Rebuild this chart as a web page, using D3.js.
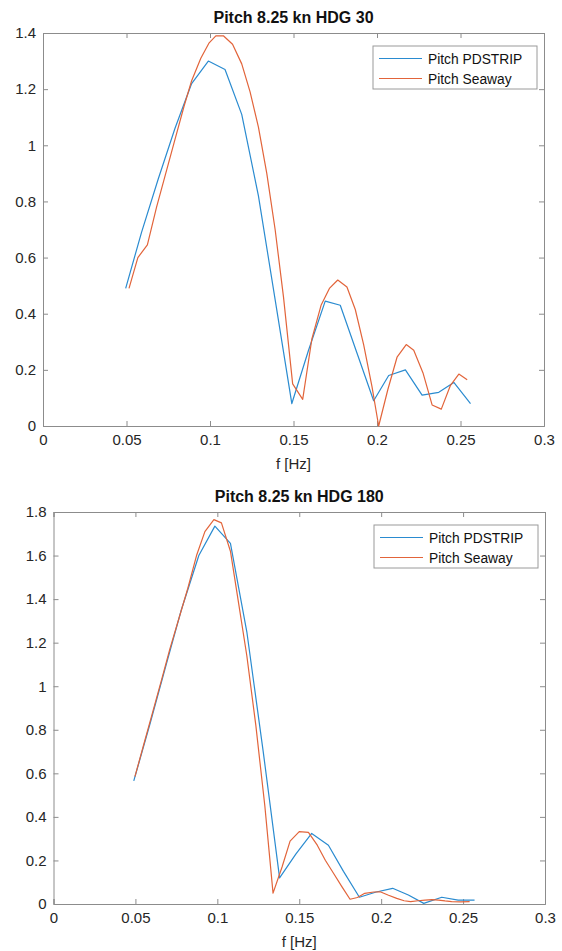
<!DOCTYPE html>
<html>
<head>
<meta charset="utf-8">
<script src="https://cdn.jsdelivr.net/npm/d3@7"></script>
<style>
  body { margin: 0; background: #fff; }
  svg { display: block; font-family: "Liberation Sans", Arial, sans-serif; }
</style>
</head>
<body>
<svg id="chart" width="562" height="951"></svg>
<script>
// ---- data ----
var titles = ["Pitch 8.25 kn HDG 30", "Pitch 8.25 kn HDG 180"];
var seriesNames = ["Pitch PDSTRIP", "Pitch Seaway"];
var xTicks = [0, 0.05, 0.1, 0.15, 0.2, 0.25, 0.3];
var yTicksTop = [0, 0.2, 0.4, 0.6, 0.8, 1, 1.2, 1.4];
var yTicksBottom = [0, 0.2, 0.4, 0.6, 0.8, 1, 1.2, 1.4, 1.6, 1.8];

// HDG 30
var pdstrip30_f = [0.0495, 0.059, 0.069, 0.079, 0.089, 0.099, 0.109, 0.119, 0.129, 0.139, 0.149,
  0.159, 0.169, 0.178, 0.188, 0.198, 0.207, 0.217, 0.227, 0.237, 0.246, 0.256];
var pdstrip30_v = [0.49, 0.69, 0.88, 1.06, 1.22, 1.30, 1.27, 1.11, 0.82, 0.45, 0.08,
  0.27, 0.445, 0.43, 0.26, 0.09, 0.18, 0.20, 0.11, 0.12, 0.155, 0.08];
var seaway30_f = [0.0515, 0.0568, 0.0625, 0.068, 0.0735, 0.079, 0.0845, 0.089, 0.0945, 0.0995,
  0.1035, 0.108, 0.1135, 0.119, 0.124, 0.129, 0.134, 0.139, 0.144, 0.1495, 0.1555, 0.161, 0.1665,
  0.1715, 0.1765, 0.182, 0.187, 0.192, 0.197, 0.201, 0.2065, 0.212, 0.2175, 0.222, 0.2275, 0.233,
  0.2385, 0.244, 0.249, 0.254];
var seaway30_v = [0.49, 0.60, 0.645, 0.78, 0.90, 1.02, 1.14, 1.23, 1.31, 1.365,
  1.39, 1.39, 1.36, 1.29, 1.19, 1.065, 0.90, 0.70, 0.46, 0.15, 0.095, 0.31, 0.43,
  0.49, 0.52, 0.495, 0.415, 0.29, 0.14, 0.0, 0.13, 0.245, 0.29, 0.27, 0.19, 0.075,
  0.06, 0.145, 0.185, 0.165];

// HDG 180
var pdstrip180_f = [0.049, 0.059, 0.069, 0.078, 0.0887, 0.0985, 0.108, 0.118, 0.128, 0.138, 0.148,
  0.1576, 0.1678, 0.177, 0.1867, 0.197, 0.207, 0.2166, 0.226, 0.237, 0.247, 0.257];
var pdstrip180_v = [0.565, 0.83, 1.105, 1.35, 1.60, 1.735, 1.656, 1.25, 0.70, 0.12, 0.23,
  0.324, 0.27, 0.15, 0.031, 0.055, 0.072, 0.041, 0.003, 0.031, 0.018, 0.018];
var seaway180_f = [0.0497, 0.055, 0.0605, 0.066, 0.071, 0.0765, 0.082, 0.0873, 0.0924, 0.0979,
  0.1025, 0.108, 0.113, 0.118, 0.1235, 0.129, 0.134, 0.1395, 0.1444, 0.150, 0.1556, 0.161, 0.166,
  0.171, 0.176, 0.181, 0.1855, 0.190, 0.1955, 0.1994, 0.2045, 0.2095, 0.214, 0.218, 0.2225, 0.2268,
  0.231, 0.235, 0.239, 0.243, 0.2485, 0.254];
var seaway180_v = [0.585, 0.73, 0.88, 1.03, 1.17, 1.31, 1.45, 1.60, 1.71, 1.765,
  1.75, 1.62, 1.38, 1.14, 0.82, 0.45, 0.05, 0.17, 0.289, 0.332, 0.329, 0.27, 0.20,
  0.14, 0.08, 0.022, 0.03, 0.049, 0.055, 0.056, 0.04, 0.026, 0.015, 0.011, 0.015, 0.018,
  0.02, 0.018, 0.014, 0.011, 0.01, 0.011];

var colors = ["#2a8bd0", "#e2643a"];
var frameColor = "#8c8c8c";

function zip(f, v){ return f.map(function(d, i){ return {f: d, v: v[i]}; }); }

var svg = d3.select("#chart");

function drawPanel(o){
  var x = d3.scaleLinear().domain([0, 0.3]).range([o.left, o.right]);
  var y = d3.scaleLinear().domain([0, o.ymax]).range([o.bottom, o.top]);
  var g = svg.append("g");

  // bottom / top axes
  g.append("g")
    .attr("transform", "translate(0," + o.bottom + ")")
    .call(d3.axisBottom(x).tickValues(xTicks).tickSize(-5).tickPadding(8)
      .tickFormat(function(d){ return d3.format("")(d); }))
    .call(styleAxis);
  g.append("g")
    .attr("transform", "translate(0," + o.top + ")")
    .call(d3.axisTop(x).tickValues(xTicks).tickSize(-5).tickFormat(""))
    .call(styleAxis);

  // left / right axes
  g.append("g")
    .attr("transform", "translate(" + o.left + ",0)")
    .call(d3.axisLeft(y).tickValues(o.yTicks).tickSize(-5).tickPadding(7)
      .tickFormat(function(d){ return d3.format("")(+d.toFixed(1)); }))
    .call(styleAxis);
  g.append("g")
    .attr("transform", "translate(" + o.right + ",0)")
    .call(d3.axisRight(y).tickValues(o.yTicks).tickSize(-5).tickFormat(""))
    .call(styleAxis);

  // lines
  var line = d3.line().x(function(d){ return x(d.f); }).y(function(d){ return y(d.v); });
  o.series.forEach(function(s, i){
    g.append("path")
      .datum(s)
      .attr("fill", "none")
      .attr("stroke", colors[i])
      .attr("stroke-width", 1.2)
      .attr("stroke-linejoin", "round")
      .attr("d", line);
  });

  // title + x label
  g.append("text")
    .attr("x", (o.left + o.right) / 2)
    .attr("y", o.top - 10)
    .attr("text-anchor", "middle")
    .style("font-size", "16px")
    .style("font-weight", "bold")
    .attr("fill", "#111")
    .text(o.title);
  g.append("text")
    .attr("x", (o.left + o.right) / 2)
    .attr("y", o.bottom + 43)
    .attr("text-anchor", "middle")
    .style("font-size", "15px")
    .attr("fill", "#262626")
    .text("f [Hz]");

  // legend
  var lw = 164, lh = 43;
  var lx = o.right - 7 - lw, ly = o.top + 13;
  var leg = g.append("g").attr("transform", "translate(" + lx + "," + ly + ")");
  leg.append("rect")
    .attr("width", lw).attr("height", lh)
    .attr("fill", "#fff").attr("stroke", "#9a9a9a").attr("stroke-width", 1);
  seriesNames.forEach(function(name, i){
    var yy = 12.5 + i * 20;
    leg.append("line")
      .attr("x1", 6).attr("x2", 49).attr("y1", yy).attr("y2", yy)
      .attr("stroke", colors[i]).attr("stroke-width", 1.2);
    leg.append("text")
      .attr("x", 55).attr("y", yy + 5)
      .style("font-size", "13.8px")
      .attr("fill", "#111")
      .text(name);
  });
}

function styleAxis(sel){
  sel.select(".domain").attr("stroke", frameColor);
  sel.selectAll(".tick line").attr("stroke", frameColor);
  sel.selectAll(".tick text").attr("fill", "#262626").style("font-size", "15px")
    .style("font-family", "'Liberation Sans', Arial, sans-serif");
}

drawPanel({
  left: 43, right: 544, top: 33, bottom: 426, ymax: 1.4,
  yTicks: yTicksTop, title: titles[0],
  series: [zip(pdstrip30_f, pdstrip30_v), zip(seaway30_f, seaway30_v)]
});

drawPanel({
  left: 53.5, right: 545, top: 512, bottom: 904, ymax: 1.8,
  yTicks: yTicksBottom, title: titles[1],
  series: [zip(pdstrip180_f, pdstrip180_v), zip(seaway180_f, seaway180_v)]
});
</script>
</body>
</html>
